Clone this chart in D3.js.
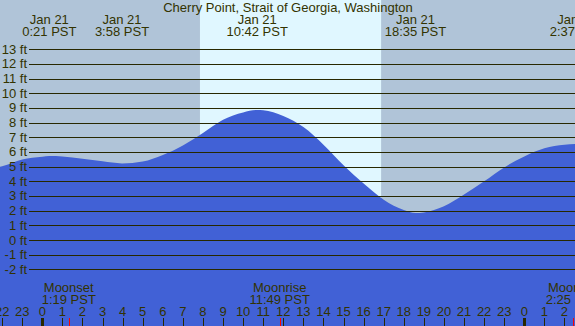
<!DOCTYPE html>
<html>
<head>
<meta charset="utf-8">
<script src="https://cdn.jsdelivr.net/npm/d3@7"></script>
<style>
  body { margin: 0; overflow: hidden; }
  svg text { font-family: "Liberation Sans", Arial, sans-serif; font-size: 13px; fill: #333300; }
  .grid line { stroke: #282800; stroke-width: 1; shape-rendering: crispEdges; }
</style>
</head>
<body>
<div id="chart-container"><svg></svg></div>
<script>
const chartSize = {width: 575, height: 326};

const title = "Cherry Point, Strait of Georgia, Washington";

// hours since midnight Jan 21 (PST), heights in ft
const hours   = [-2.2, -2, -1, 0, 0.35, 1, 2, 3, 3.97, 5, 6, 7, 8, 9, 10, 10.7, 11, 12, 13, 14, 15, 16, 17, 18, 18.58, 19, 20, 21, 22, 23, 24, 25, 26, 26.62, 27];
const heights = [4.97, 5.02, 5.48, 5.67, 5.73, 5.70, 5.54, 5.36, 5.22, 5.35, 5.80, 6.45, 7.30, 8.20, 8.70, 8.86, 8.85, 8.45, 7.70, 6.50, 5.10, 3.85, 2.75, 2.05, 1.84, 1.88, 2.30, 3.10, 4.00, 4.95, 5.70, 6.25, 6.50, 6.55, 6.52];

const extremeHours = [0.35, 3.967, 10.7, 18.583, 26.617];
const extremeLabels = ["0:21 PST", "3:58 PST", "10:42 PST", "18:35 PST", "2:37 PST"];
const extremeDates = ["Jan 21", "Jan 21", "Jan 21", "Jan 21", "Jan 22"];

const sunrise = 7.85;
const sunset = 16.87;

const moonHours = [1.317, 11.817, 26.417];
const moonNames = ["Moonset", "Moonrise", "Moonset"];
const moonLabels = ["1:19 PST", "11:49 PST", "2:25 PST"];

const feetTicks = d3.range(-2, 14);
const hourTicks = d3.range(-2, 27);

const x = d3.scaleLinear().domain([0, 24]).range([42.3, 524.3]);
const y = d3.scaleLinear().domain([0, 13]).range([240, 49.3]);

const drawChart = () => {
  const svg = d3.select("#chart-container svg")
    .attr("width", chartSize.width)
    .attr("height", chartSize.height);

  // night background
  svg.append("rect")
    .attr("width", chartSize.width)
    .attr("height", chartSize.height)
    .attr("fill", "#b0c4d8");

  // daylight band
  svg.append("rect")
    .attr("x", x(sunrise))
    .attr("width", x(sunset) - x(sunrise))
    .attr("height", chartSize.height)
    .attr("fill", "#e0f7ff");

  const tide = hours.map((h, i) => ({h, v: heights[i]}));

  const area = d3.area()
    .x(d => x(d.h))
    .y0(chartSize.height)
    .y1(d => y(d.v))
    .curve(d3.curveMonotoneX);

  svg.append("path")
    .attr("d", area(tide))
    .attr("fill", "#4161d6");

  const grid = svg.append("g").attr("class", "grid");
  grid.selectAll("line")
    .data(feetTicks)
    .join("line")
    .attr("x1", 29)
    .attr("x2", chartSize.width)
    .attr("y1", d => Math.round(y(d)) + 0.5)
    .attr("y2", d => Math.round(y(d)) + 0.5);

  svg.append("g").selectAll("text")
    .data(feetTicks)
    .join("text")
    .attr("x", 27)
    .attr("y", d => y(d) + 4.5)
    .attr("text-anchor", "end")
    .text(d => `${d} ft`);

  svg.append("text")
    .attr("x", 288)
    .attr("y", 12)
    .attr("text-anchor", "middle")
    .text(title);

  const heads = svg.append("g").selectAll("g")
    .data(extremeHours)
    .join("g")
    .attr("transform", d => `translate(${x(d)},0)`);
  heads.append("text")
    .attr("y", 24)
    .attr("text-anchor", "middle")
    .text((d, i) => extremeDates[i]);
  heads.append("text")
    .attr("y", 36)
    .attr("text-anchor", "middle")
    .text((d, i) => extremeLabels[i]);

  const moons = svg.append("g").selectAll("g")
    .data(moonHours)
    .join("g")
    .attr("transform", d => `translate(${x(d)},0)`);
  moons.append("text")
    .attr("y", 291.5)
    .attr("text-anchor", "middle")
    .text((d, i) => moonNames[i]);
  moons.append("text")
    .attr("y", 304)
    .attr("text-anchor", "middle")
    .text((d, i) => moonLabels[i]);

  // hour axis along the bottom
  svg.append("g").selectAll("text")
    .data(hourTicks)
    .join("text")
    .attr("x", d => x(d))
    .attr("y", 316)
    .attr("text-anchor", "middle")
    .text(d => (d + 24) % 24);

  svg.append("g").selectAll("line")
    .data(hourTicks)
    .join("line")
    .attr("x1", d => Math.round(x(d)) + 0.5)
    .attr("x2", d => Math.round(x(d)) + 0.5)
    .attr("y1", 318)
    .attr("y2", chartSize.height)
    .attr("stroke", "#282800")
    .attr("stroke-width", d => d % 24 === 0 ? 3 : 1);

  svg.append("g").selectAll("line")
    .data(moonHours)
    .join("line")
    .attr("x1", d => Math.round(x(d)) + 0.5)
    .attr("x2", d => Math.round(x(d)) + 0.5)
    .attr("y1", 318)
    .attr("y2", chartSize.height)
    .attr("stroke", "#ff0000");
};

window.onload = drawChart;
</script>
</body>
</html>
